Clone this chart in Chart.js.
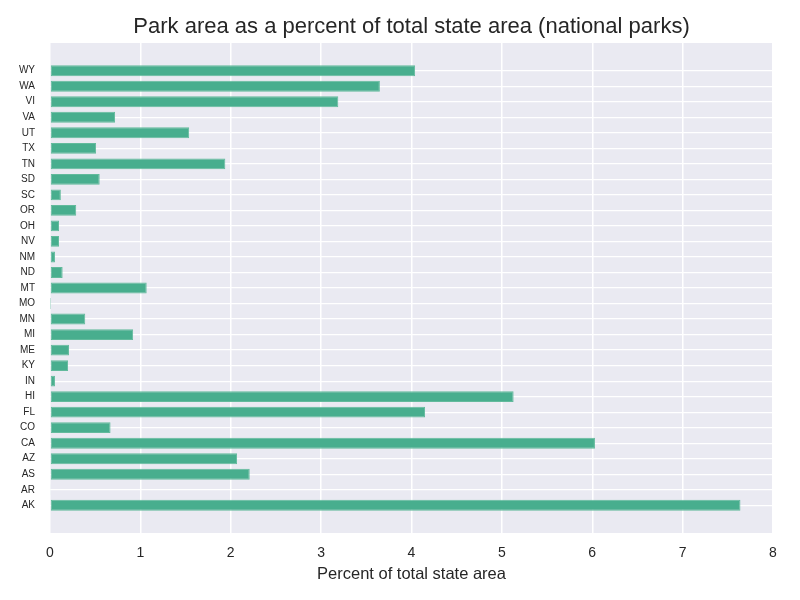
<!DOCTYPE html>
<html>
<head>
<meta charset="utf-8">
<script src="https://cdn.jsdelivr.net/npm/chart.js@4"></script>
<style>
  html, body { margin: 0; padding: 0; background: #fff; }
  #wrap { width: 800px; height: 600px; }
</style>
</head>
<body>
<div id="wrap"><canvas id="parkChart" width="800" height="600"></canvas></div>
<script>
// states, bottom to top as in the picture
const states = ["AK", "AR", "AS", "AZ", "CA", "CO", "FL", "HI", "IN", "KY", "ME", "MI", "MN", "MO",
  "MT", "ND", "NM", "NV", "OH", "OR", "SC", "SD", "TN", "TX", "UT", "VA", "VI", "WA", "WY"];
const percentArea = [7.64, 0.01, 2.21, 2.07, 6.03, 0.67, 4.15, 5.13, 0.055, 0.2, 0.21, 0.92, 0.39, 0.002,
  1.07, 0.14, 0.055, 0.1, 0.1, 0.29, 0.12, 0.55, 1.94, 0.51, 1.54, 0.72, 3.19, 3.65, 4.04];
const xTicks = [0, 1, 2, 3, 4, 5, 6, 7, 8];
const chartTitle = "Park area as a percent of total state area (national parks)";

const FONT = "'Liberation Sans', Arial, sans-serif";
const TEXT = "#262626";

// grey plot background like seaborn darkgrid
const bgPlugin = {
  id: "plotBg",
  beforeDraw(chart) {
    const { ctx, chartArea } = chart;
    ctx.save();
    ctx.fillStyle = "#EAEAF2";
    ctx.fillRect(chartArea.left, chartArea.top, chartArea.right - chartArea.left, chartArea.bottom - chartArea.top);
    ctx.restore();
  }
};

// title centred over the plot area, not the whole canvas
const titlePlugin = {
  id: "plotTitle",
  afterDraw(chart) {
    const { ctx, chartArea } = chart;
    ctx.save();
    ctx.fillStyle = TEXT;
    ctx.font = "22px " + FONT;
    ctx.textAlign = "center";
    ctx.textBaseline = "alphabetic";
    ctx.fillText(chartTitle, (chartArea.left + chartArea.right) / 2, 33);
    ctx.restore();
  }
};

const points = states.map((s, i) => ({ x: percentArea[i], y: i }));

new Chart(document.getElementById("parkChart").getContext("2d"), {
  type: "bar",
  data: {
    datasets: [{
      data: points,
      backgroundColor: "rgba(72, 174, 142, 1)",
      borderColor: "rgba(98, 186, 156, 1)",
      borderWidth: 1,
      borderSkipped: false,
      barPercentage: 0.7,
      categoryPercentage: 1
    }]
  },
  options: {
    indexAxis: "y",
    responsive: false,
    animation: false,
    layout: { padding: { left: 0, right: 27, top: 43, bottom: 0 } },
    plugins: {
      legend: { display: false },
      tooltip: { enabled: false },
      title: { display: false }
    },
    scales: {
      x: {
        type: "linear",
        min: 0,
        max: 8,
        afterBuildTicks: (scale) => { scale.ticks = xTicks.map(v => ({ value: v })); },
        afterFit: (scale) => { scale.height = 67; },
        grid: { color: "#ffffff", lineWidth: 1.5, drawTicks: false, offset: false },
        border: { display: false },
        ticks: { color: TEXT, font: { family: FONT, size: 14 }, padding: 12 },
        title: {
          display: true,
          text: "Percent of total state area",
          color: TEXT,
          font: { family: FONT, size: 16.5 },
          padding: { top: 0, bottom: 16 }
        }
      },
      y: {
        type: "linear",
        min: -1.785,
        max: 29.785,
        offset: false,
        afterBuildTicks: (scale) => { scale.ticks = states.map((s, i) => ({ value: i })); },
        afterFit: (scale) => { scale.width = 50; },
        grid: { color: "#ffffff", lineWidth: 1.2, drawTicks: false, offset: false },
        border: { display: false },
        ticks: {
          color: TEXT,
          font: { family: FONT, size: 10 },
          padding: 15,
          callback: (v) => states[v] ?? ""
        }
      }
    }
  },
  plugins: [bgPlugin, titlePlugin]
});
</script>
</body>
</html>
